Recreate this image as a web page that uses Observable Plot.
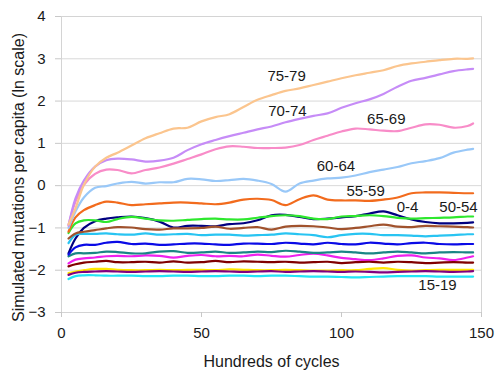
<!DOCTYPE html>
<html><head><meta charset="utf-8">
<script src="https://cdn.jsdelivr.net/npm/d3@7"></script>
<script src="https://cdn.jsdelivr.net/npm/@observablehq/plot@0.6"></script>
<style>body{margin:0;background:#fff}</style>
</head><body><div id="chart"></div>
<script>
const cycles = [2.5,5,8,12,16,20,25,30,35,40,45,50,55,60,65,70,75,80,85,90,95,100,105,110,115,120,125,130,135,140,145,147];
const groups = ["0-4","5-9","10-14","15-19","20-24","25-29","30-34","35-39","40-44","45-49","50-54","55-59","60-64","65-69","70-74","75-79"];
const colors = ["#000080","#ee22ee","#ffe600","#22e5f5","#800080","#800000","#1a8585","#0a0ae6","#28c4f2","#a0522d","#2ee82e","#f26b1d","#99c8f8","#f88cc8","#c68cf7","#fbc58e"];

const s0_4   = [-1.60,-1.25,-1.00,-0.84,-0.78,-0.75,-0.73,-0.77,-0.85,-0.99,-0.95,-0.95,-0.96,-0.91,-0.89,-0.82,-0.70,-0.69,-0.74,-0.79,-0.78,-0.75,-0.72,-0.66,-0.61,-0.70,-0.80,-0.86,-0.89,-0.89,-0.88,-0.87];
const s5_9   = [-1.84,-1.75,-1.72,-1.70,-1.67,-1.66,-1.67,-1.65,-1.66,-1.70,-1.66,-1.64,-1.67,-1.66,-1.67,-1.63,-1.66,-1.68,-1.64,-1.61,-1.65,-1.71,-1.74,-1.76,-1.72,-1.66,-1.65,-1.70,-1.72,-1.76,-1.70,-1.67];
const s10_14 = [-2.07,-2.03,-2.00,-1.97,-1.97,-1.99,-2.00,-2.00,-1.99,-2.00,-1.99,-1.99,-2.00,-1.98,-1.99,-2.00,-2.00,-1.99,-2.00,-2.01,-2.01,-2.00,-2.00,-1.97,-1.95,-1.99,-2.01,-2.00,-1.99,-1.99,-1.99,-1.99];
const s15_19 = [-2.21,-2.14,-2.12,-2.12,-2.13,-2.13,-2.13,-2.14,-2.14,-2.13,-2.13,-2.14,-2.14,-2.13,-2.13,-2.14,-2.13,-2.13,-2.14,-2.15,-2.15,-2.16,-2.17,-2.16,-2.15,-2.14,-2.14,-2.14,-2.15,-2.15,-2.15,-2.15];
const s20_24 = [-2.11,-2.06,-2.04,-2.03,-2.02,-2.03,-2.04,-2.03,-2.02,-2.03,-2.04,-2.03,-2.02,-2.03,-2.04,-2.03,-2.02,-2.04,-2.03,-2.02,-2.03,-2.04,-2.03,-2.04,-2.05,-2.04,-2.03,-2.02,-2.03,-2.04,-2.03,-2.02];
const s25_29 = [-1.91,-1.86,-1.82,-1.80,-1.78,-1.81,-1.81,-1.80,-1.82,-1.79,-1.82,-1.81,-1.78,-1.81,-1.79,-1.80,-1.81,-1.80,-1.82,-1.81,-1.80,-1.83,-1.81,-1.80,-1.82,-1.80,-1.81,-1.83,-1.82,-1.81,-1.82,-1.82];
const s30_34 = [-1.67,-1.60,-1.60,-1.59,-1.56,-1.57,-1.60,-1.60,-1.56,-1.55,-1.59,-1.58,-1.56,-1.59,-1.58,-1.56,-1.57,-1.54,-1.56,-1.59,-1.58,-1.56,-1.58,-1.60,-1.58,-1.56,-1.58,-1.60,-1.58,-1.57,-1.58,-1.58];
const s35_39 = [-1.63,-1.46,-1.40,-1.40,-1.35,-1.33,-1.38,-1.37,-1.40,-1.39,-1.37,-1.37,-1.39,-1.40,-1.37,-1.37,-1.38,-1.35,-1.37,-1.39,-1.35,-1.38,-1.39,-1.35,-1.37,-1.39,-1.36,-1.35,-1.38,-1.39,-1.38,-1.38];
const s40_44 = [-1.36,-1.16,-1.14,-1.14,-1.13,-1.15,-1.16,-1.13,-1.16,-1.15,-1.14,-1.17,-1.16,-1.16,-1.18,-1.17,-1.16,-1.13,-1.15,-1.17,-1.22,-1.17,-1.14,-1.14,-1.17,-1.17,-1.18,-1.20,-1.18,-1.17,-1.15,-1.15];
const s45_49 = [-1.25,-1.13,-1.09,-1.05,-1.01,-0.98,-0.99,-1.03,-1.04,-1.01,-1.01,-1.00,-0.97,-1.02,-1.00,-0.98,-1.04,-0.97,-0.95,-0.96,-0.99,-1.03,-1.00,-0.96,-0.92,-0.97,-0.98,-0.95,-0.96,-0.97,-0.98,-0.99];
const s50_54 = [-1.12,-0.89,-0.82,-0.82,-0.86,-0.79,-0.74,-0.78,-0.82,-0.83,-0.81,-0.79,-0.78,-0.80,-0.80,-0.76,-0.72,-0.70,-0.72,-0.78,-0.79,-0.73,-0.72,-0.70,-0.72,-0.76,-0.78,-0.77,-0.76,-0.75,-0.73,-0.73];
const s55_59 = [-1.09,-0.75,-0.58,-0.46,-0.38,-0.40,-0.46,-0.44,-0.42,-0.40,-0.40,-0.42,-0.44,-0.40,-0.33,-0.31,-0.34,-0.46,-0.32,-0.23,-0.33,-0.35,-0.35,-0.36,-0.33,-0.28,-0.18,-0.16,-0.16,-0.17,-0.18,-0.18];
const s60_64 = [-1.00,-0.61,-0.28,-0.05,-0.01,0.05,0.09,0.05,0.08,0.08,0.16,0.15,0.11,0.13,0.16,0.12,0.04,-0.14,0.05,0.12,0.17,0.19,0.24,0.32,0.38,0.44,0.53,0.58,0.65,0.78,0.85,0.87];
const s65_69 = [-0.93,-0.38,0.02,0.28,0.38,0.37,0.29,0.37,0.43,0.52,0.63,0.74,0.86,0.93,0.92,0.89,0.89,0.90,0.96,1.08,1.18,1.28,1.35,1.33,1.30,1.29,1.37,1.45,1.44,1.37,1.41,1.47];
const s70_74 = [-0.95,-0.30,0.12,0.45,0.60,0.64,0.62,0.57,0.59,0.66,0.84,0.98,1.08,1.17,1.25,1.33,1.40,1.50,1.58,1.65,1.71,1.84,1.95,2.04,2.17,2.34,2.48,2.55,2.63,2.71,2.75,2.76];
const s75_79 = [-0.92,-0.54,0.02,0.45,0.66,0.78,0.95,1.12,1.24,1.35,1.37,1.52,1.62,1.69,1.86,2.03,2.14,2.24,2.30,2.38,2.46,2.54,2.61,2.67,2.73,2.83,2.89,2.93,2.97,3.00,3.00,3.01];

const seriesValues = [s0_4,s5_9,s10_14,s15_19,s20_24,s25_29,s30_34,s35_39,s40_44,s45_49,s50_54,s55_59,s60_64,s65_69,s70_74,s75_79];

const labelNames = ["75-79","70-74","65-69","60-64","55-59","0-4","50-54","15-19"];
const labelX = [80.4, 80.7, 116, 98, 108.6, 123.6, 141.8, 134.3];
const labelY = [2.58, 1.77, 1.58, 0.47, -0.12, -0.50, -0.50, -2.36];

const xTicks = [0, 50, 100, 150];
const yTicks = [-3, -2, -1, 0, 1, 2, 3, 4];
const xTitle = "Hundreds of cycles";
const yTitle = "Simulated mutations per capita (ln scale)";

const table = [];
groups.forEach((g, i) => cycles.forEach((c, j) => table.push({group: g, x: c, y: seriesValues[i][j]})));
const labels = labelNames.map((t, i) => ({t, x: labelX[i], y: labelY[i]}));

const plot = Plot.plot({
  width: 495, height: 370,
  marginLeft: 61, marginRight: 14, marginTop: 16, marginBottom: 58,
  style: {fontFamily: "'Liberation Sans', Arial, sans-serif", fontSize: "15px", color: "#1a1a1a", background: "#fff"},
  x: {domain: [0, 150], label: null},
  y: {domain: [-3, 4], label: null},
  color: {domain: groups, range: colors},
  marks: [
    Plot.gridY(yTicks, {stroke: "#d9d9d9", strokeOpacity: 1}),
    Plot.frame({stroke: "#d4d4d4"}),
    Plot.axisX(xTicks, {tickSize: 5, tickPadding: 10, stroke: "#c8c8c8", fontSize: 15, label: null}),
    Plot.axisY(yTicks, {tickSize: 6, tickPadding: 10, stroke: "#c8c8c8", fontSize: 15, label: null}),
    Plot.line(table, {x: "x", y: "y", z: "group", stroke: "group", strokeWidth: 2.2, curve: "catmull-rom"}),
    Plot.text(labels, {x: "x", y: "y", text: "t", fontSize: 15, fill: "#1a1a1a"}),
    Plot.text([yTitle], {text: d => d, frameAnchor: "left", textAnchor: "middle", lineAnchor: "middle", dx: -43, dy: 13, rotate: -90, fontSize: 16, fill: "#1a1a1a"}),
    Plot.text([xTitle], {text: d => d, frameAnchor: "bottom", textAnchor: "middle", lineAnchor: "middle", dy: 49, fontSize: 16, fill: "#1a1a1a"})
  ]
});
document.getElementById("chart").appendChild(plot);
</script>
</body></html>
